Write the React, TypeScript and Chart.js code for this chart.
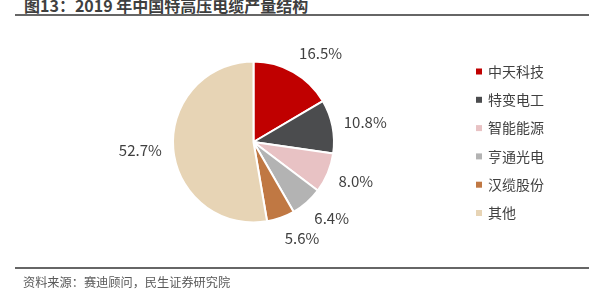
import React, { useEffect, useRef } from "react";
import { Chart, registerables } from "chart.js";

Chart.register(...registerables);

const titleText = "图13：2019 年中国特高压电缆产量结构";
const sourceText = "资料来源：赛迪顾问，民生证券研究院";
const categories = ["中天科技", "特变电工", "智能能源", "亨通光电", "汉缆股份", "其他"];
const shares = [16.5, 10.8, 8.0, 6.4, 5.6, 52.7];
const colors = ["#C00000", "#4B4C4E", "#E8C2C4", "#B3B3B3", "#C07843", "#E7D4B5"];

const FONT = '"Noto Sans CJK SC", "Noto Sans", sans-serif';
const TEXT = "#404040";

const outerLabels = {
  id: "outerLabels",
  afterDatasetsDraw(chart: any) {
    const ctx = chart.ctx;
    const meta = chart.getDatasetMeta(0);
    const data = chart.data.datasets[0].data as number[];
    ctx.save();
    ctx.font = `15px ${FONT}`;
    ctx.fillStyle = TEXT;
    ctx.textBaseline = "middle";
    meta.data.forEach((arc: any, i: number) => {
      const p = arc.getProps(["x", "y", "startAngle", "endAngle", "outerRadius"], true);
      const mid = (p.startAngle + p.endAngle) / 2;
      const r = p.outerRadius + 11.5;
      const ax = p.x + Math.cos(mid) * r;
      const ay = p.y + Math.sin(mid) * r;
      const label = data[i].toFixed(1) + "%";
      ctx.textAlign = Math.cos(mid) >= 0 ? "left" : "right";
      ctx.fillText(label, ax, ay + Math.sin(mid) * 10);
    });
    ctx.restore();
  },
};

const sideLegend = {
  id: "sideLegend",
  afterDraw(chart: any) {
    const ctx = chart.ctx;
    const labels = chart.data.labels as string[];
    const bg = chart.data.datasets[0].backgroundColor as string[];
    const x0 = 476;
    const y0 = 71.5;
    const step = 28.3;
    ctx.save();
    ctx.font = `14px ${FONT}`;
    ctx.textBaseline = "middle";
    ctx.textAlign = "left";
    labels.forEach((lab, i) => {
      const y = y0 + i * step;
      ctx.fillStyle = bg[i];
      ctx.fillRect(x0, y - 3, 6, 6);
      ctx.fillStyle = TEXT;
      ctx.fillText(lab, x0 + 12, y);
    });
    ctx.restore();
  },
};

export default function App() {
  const ref = useRef<HTMLCanvasElement | null>(null);
  useEffect(() => {
    if (!ref.current) return;
    const chart = new Chart(ref.current, {
      type: "pie",
      data: {
        labels: categories,
        datasets: [
          {
            data: shares,
            backgroundColor: colors,
            borderColor: "#FFFFFF",
            borderWidth: 2,
          },
        ],
      },
      options: {
        responsive: false,
        animation: false,
        events: [],
        layout: { padding: { left: 172, right: 254, top: 60.5, bottom: 77.5 } },
        plugins: {
          legend: { display: false },
          tooltip: { enabled: false },
        },
      },
      plugins: [outerLabels, sideLegend],
    });
    return () => chart.destroy();
  }, []);

  return (
    <div style={{ position: "absolute", left: 0, top: 0, width: 589, height: 301, background: "#fff", overflow: "hidden" }}>
      <div
        style={{
          position: "absolute",
          left: 24,
          top: -3,
          fontFamily: FONT,
          fontWeight: 700,
          fontSize: 16,
          lineHeight: "16px",
          color: "#3F3F3F",
          whiteSpace: "nowrap",
        }}
      >
        {titleText}
      </div>
      <div style={{ position: "absolute", left: 15, top: 14, width: 574, height: 2, background: "#666666" }} />
      <canvas ref={ref} width={589} height={301} style={{ position: "absolute", left: 0, top: 0 }} />
      <div style={{ position: "absolute", left: 15, top: 267, width: 574, height: 2, background: "#666666" }} />
      <div
        style={{
          position: "absolute",
          left: 23,
          top: 274,
          fontFamily: FONT,
          fontSize: 12.2,
          lineHeight: "16px",
          color: "#595959",
          whiteSpace: "nowrap",
        }}
      >
        {sourceText}
      </div>
    </div>
  );
}
